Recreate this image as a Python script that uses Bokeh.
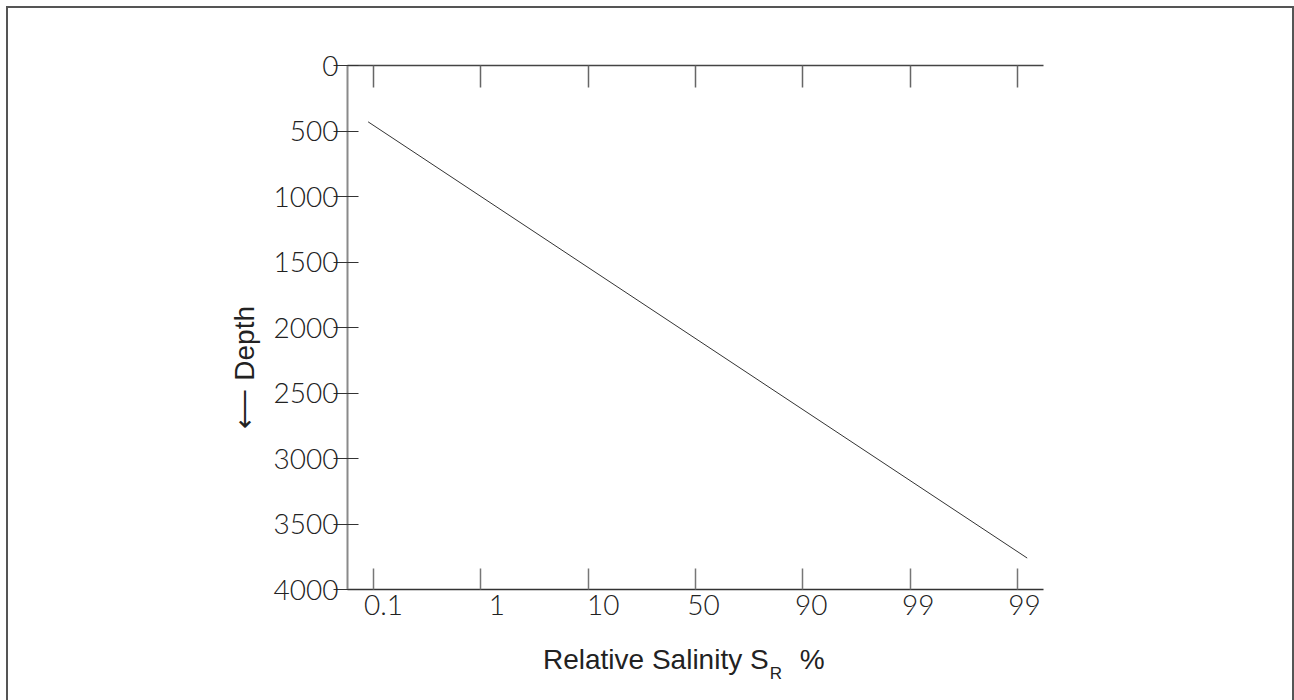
from bokeh.plotting import figure
from bokeh.models import Range1d, FixedTicker, LinearAxis, Title, CustomLabelingPolicy
from bokeh.embed import file_html
from bokeh.resources import INLINE

# ---- data ----
salinity_labels = ["0.1", "1", "10", "50", "90", "99", "99"]
salinity_positions = [0, 1, 2, 3, 4, 5, 6]
depth_ticks = [0, 500, 1000, 1500, 2000, 2500, 3000, 3500, 4000]
line_position = [-0.05, 6.09]
line_depth = [430, 3760]

# ---- layout ----
# the printed labels sit slightly right of their tick marks
LABEL_SHIFT = [0.093, 0.149, 0.14, 0.075, 0.079, 0.075, 0.065]
R_POS = 3.75
TICK_FONT = "Lato Light"
TITLE_FONT = "Liberation Sans"
NB = "\u00a0"


def no_labels():
    return CustomLabelingPolicy(code="return []")


p = figure(frame_width=696, frame_height=524,
           min_border_left=347, min_border_right=251,
           min_border_top=65, min_border_bottom=111,
           x_range=Range1d(-0.242, 6.242), y_range=Range1d(4000, 0),
           output_backend="svg", toolbar_location=None)
p.outline_line_color = None
p.grid.visible = False
p.background_fill_color = "white"
p.border_fill_color = None
p.styles = {"background-color": "white",
            "box-shadow": "inset 6px 6px 0 0 white, inset 8px 8px 0 0 #555555, inset -2px 0 0 0 #555555"}

p.line(line_position, line_depth, line_color="#333333", line_width=1)

# bottom axis: line and tick marks only
xa = p.xaxis[0]
xa.ticker = FixedTicker(ticks=salinity_positions)
xa.axis_line_color = "#333333"
xa.axis_line_width = 1.5
xa.major_tick_in = 21
xa.major_tick_out = 0
xa.major_tick_line_color = "#777777"
xa.major_tick_line_width = 1.5
xa.minor_tick_line_color = None
xa.major_label_standoff = 0
xa.major_label_text_font_size = "1px"
xa.major_label_policy = no_labels()

# bottom axis: tick labels and title
label_positions = [pos + sh for pos, sh in zip(salinity_positions, LABEL_SHIFT)]
la = LinearAxis(ticker=FixedTicker(ticks=label_positions),
                major_label_overrides={lp: lab for lp, lab in zip(label_positions, salinity_labels)},
                axis_line_color=None, major_tick_line_color=None,
                minor_tick_line_color=None,
                major_tick_in=0, major_tick_out=0,
                major_label_standoff=1,
                major_label_text_font=TICK_FONT,
                major_label_text_font_size="28px",
                major_label_text_color="#222222",
                axis_label="Relative Salinity S" + NB * 4 + "%" + NB * 3,
                axis_label_standoff=26,
                axis_label_text_font=TITLE_FONT,
                axis_label_text_font_size="28px",
                axis_label_text_font_style="normal",
                axis_label_text_color="#222222")
p.add_layout(la, "below")

# subscript "R" of S_R, set under the S of the axis title
ra = LinearAxis(ticker=FixedTicker(ticks=[R_POS]),
                major_label_overrides={R_POS: "R"},
                axis_line_color=None, major_tick_line_color=None,
                minor_tick_line_color=None,
                major_tick_in=0, major_tick_out=0,
                major_label_standoff=-14,
                major_label_text_font=TITLE_FONT,
                major_label_text_font_size="17px",
                major_label_text_color="#222222")
p.add_layout(ra, "below")

# top axis (ticks only)
ta = LinearAxis(ticker=FixedTicker(ticks=salinity_positions),
                axis_line_color="#444444", axis_line_width=1.5,
                major_tick_in=22, major_tick_out=0,
                major_tick_line_color="#666666", major_tick_line_width=1.5,
                minor_tick_line_color=None,
                major_label_text_font_size="1px",
                major_label_policy=no_labels())
p.add_layout(ta, "above")

# left axis
ya = p.yaxis[0]
ya.ticker = FixedTicker(ticks=depth_ticks)
ya.axis_line_color = "#8a8a8a"
ya.axis_line_width = 2
ya.major_tick_in = 11
ya.major_tick_out = 14
ya.major_tick_line_color = "#333333"
ya.major_tick_line_width = 1.2
ya.minor_tick_line_color = None
ya.major_label_standoff = -5
ya.major_label_text_font = TICK_FONT
ya.major_label_text_font_size = "28px"
ya.major_label_text_color = "#222222"

# y title
p.add_layout(Title(text="\u27f5 Depth", align="left", offset=161, standoff=21,
                   text_font=TITLE_FONT, text_font_size="28px",
                   text_font_style="normal", text_color="#222222"), "left")

open("out.html", "w").write(file_html(p, INLINE))
